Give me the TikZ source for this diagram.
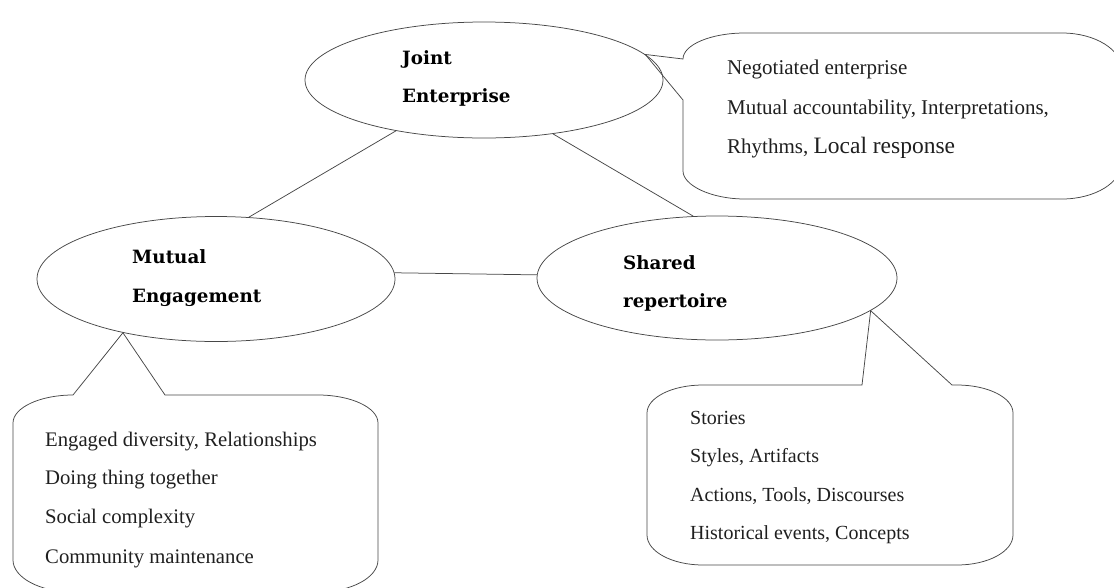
\documentclass[tikz,border=0pt]{standalone}
\usepackage{fontspec}
\usetikzlibrary{shapes.geometric}
\newfontfamily\lblfont{DejaVu Serif}
\newfontfamily\cafont{Liberation Serif}
\newfontfamily\cbfont{Liberation Serif}
\begin{document}
\begin{tikzpicture}[x=1pt,y=-1pt,
  lc/.style={draw=black!72, line width=0.75pt},
  ell/.style={lc, ellipse, inner sep=0pt},
  conn/.style={lc},
  callout/.style={lc, line join=miter},
  lbl/.style={anchor=base west, inner sep=0pt, font=\lblfont\bfseries\fontsize{18.3}{18.3}\selectfont},
  ta/.style={anchor=base west, inner sep=0pt, text=black!88, font=\cafont\fontsize{20.7}{20.7}\selectfont},
  tj/.style={anchor=base west, inner sep=0pt, text=black!88, font=\cafont\fontsize{21}{21}\selectfont},
  tb/.style={anchor=base west, inner sep=0pt, text=black!88, font=\cbfont\fontsize{20}{20}\selectfont},
]
\useasboundingbox (0,0) rectangle (1114,587);
\clip (0,0) rectangle (1114,587);

% ellipses
\node[ell, minimum width=358pt, minimum height=116pt] (je) at (484,80) {};
\node[ell, minimum width=358pt, minimum height=125pt] (me) at (216,279) {};
\node[ell, minimum width=360pt, minimum height=124pt] (sr) at (717,278) {};

% labels
\node[lbl] (je1) at (402,64) {Joint};
\node[lbl] (je2) at (402,102) {Enterprise};
\node[lbl] (me1) at (132,263) {Mutual};
\node[lbl] (me2) at (132,302) {Engagement};
\node[lbl] (sr1) at (623,269) {Shared};
\node[lbl] (sr2) at (623,307) {repertoire};

% connectors
\draw[conn] (je.210) -- (me.62);
\draw[conn] (je.322) -- (sr.111);
\draw[conn] (me.2) -- (sr.179);

% callout of Joint Enterprise
\draw[callout] (je.9) -- (683,59)
  .. controls (683,44.7) and (711,33) .. (745,33)
  -- (1062,33)
  .. controls (1095,33) and (1122,49.6) .. (1122,70)
  -- (1122,162)
  .. controls (1122,182.4) and (1095,199) .. (1062,199)
  -- (745,199)
  .. controls (711,199) and (683,185.3) .. (683,171)
  -- (683,100) -- cycle;
\node[tj] (c1a) at (727,74) {Negotiated enterprise};
\node[tj] (c1b) at (727,114) {Mutual accountability, Interpretations,};
\node[tj] (c1c) at (727,153) {Rhythms, \fontsize{23.5}{23.5}\selectfont Local response};

% callout of Mutual Engagement
\draw[callout] (me.210) -- (165,395)
  -- (318,395)
  .. controls (351,395) and (378,407.6) .. (378,423)
  -- (378,560)
  .. controls (378,577.6) and (351,592) .. (318,592)
  -- (73,592)
  .. controls (40,592) and (13,577.6) .. (13,560)
  -- (13,423)
  .. controls (13,407.6) and (40,395) .. (73,395)
  -- cycle;
\node[ta] (c2a) at (45,446) {Engaged diversity, Relationships};
\node[ta] (c2b) at (45,484) {Doing thing together};
\node[ta] (c2c) at (45,523) {Social complexity};
\node[ta] (c2d) at (45,563) {Community maintenance};

% callout of Shared repertoire
\draw[callout] (sr.348) -- (862,385)
  -- (703,385)
  .. controls (672,385) and (647,397.6) .. (647,413)
  -- (647,535)
  .. controls (647,551.5) and (672,565) .. (703,565)
  -- (957,565)
  .. controls (988,565) and (1013,551.5) .. (1013,535)
  -- (1013,413)
  .. controls (1013,397.6) and (988,385) .. (957,385)
  -- (952,385) -- cycle;
\node[tb] (c3a) at (690,424) {Stories};
\node[tb] (c3b) at (690,462) {Styles, Artifacts};
\node[tb] (c3c) at (690,501) {Actions, Tools, Discourses};
\node[tb] (c3d) at (690,539) {Historical events, Concepts};
\end{tikzpicture}
\end{document}
